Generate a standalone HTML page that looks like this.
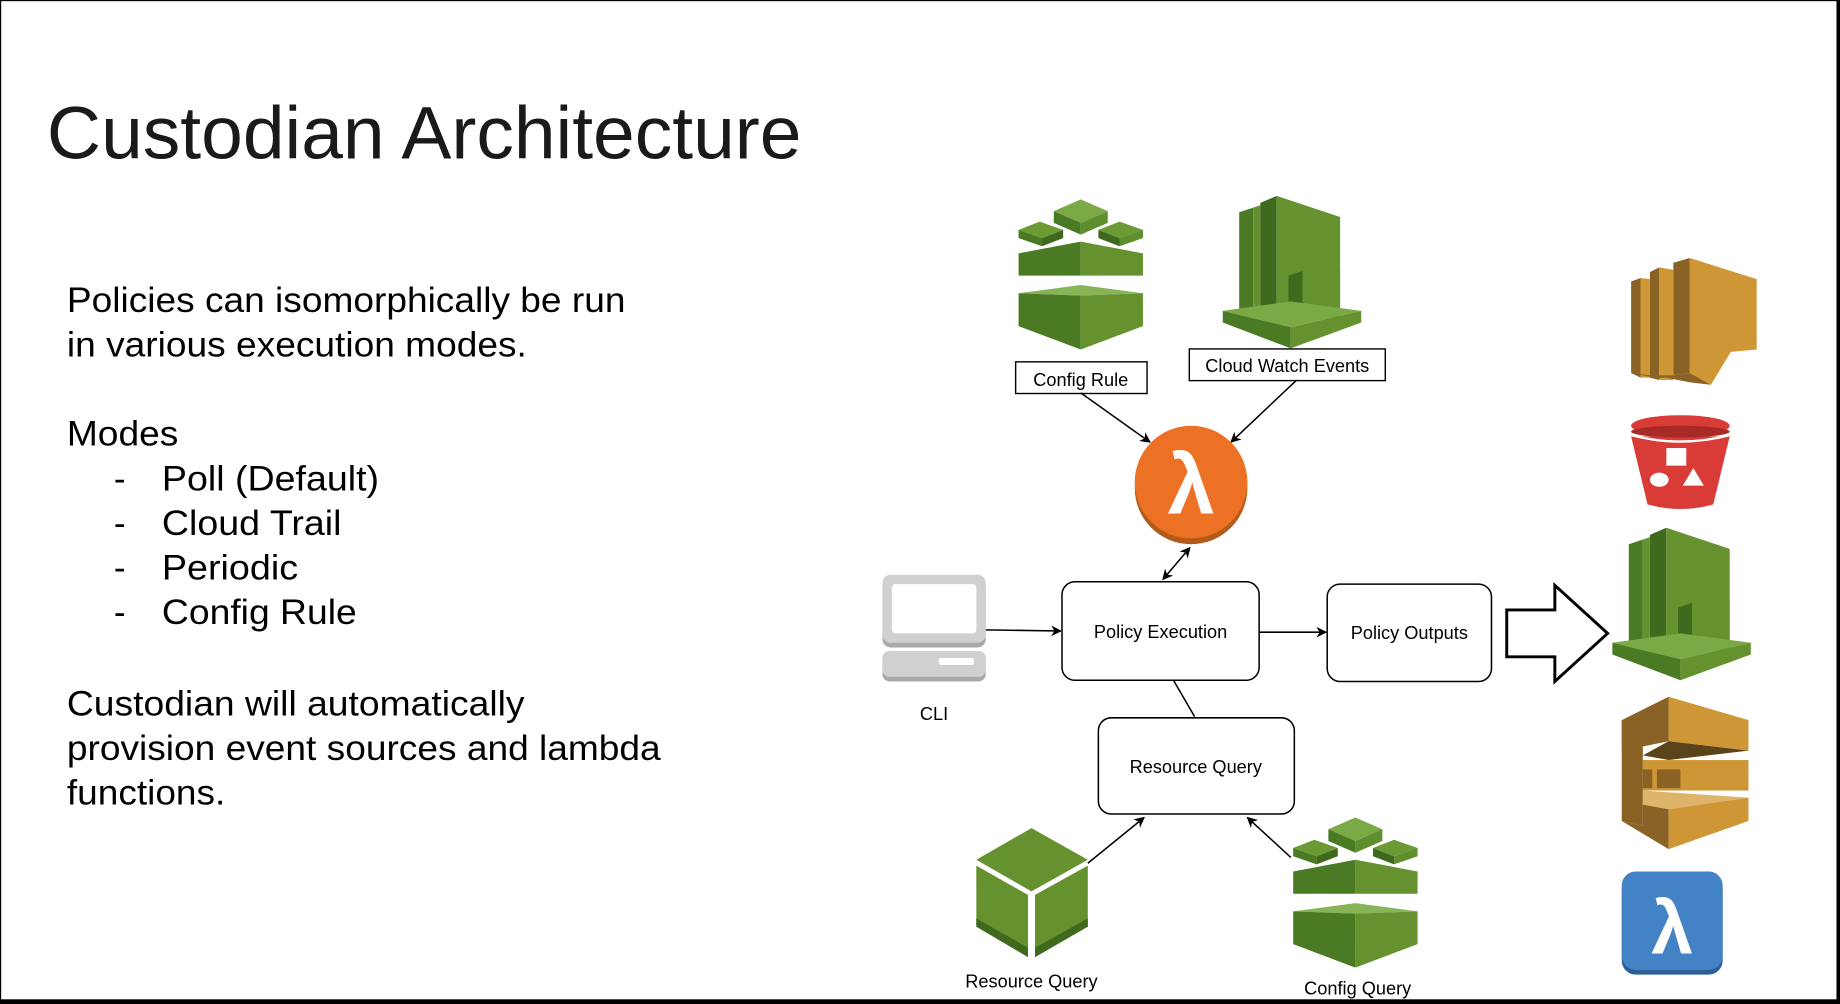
<!DOCTYPE html>
<html><head><meta charset="utf-8"><style>
html,body{margin:0;padding:0;background:#fff;}
svg{display:block;}
text{font-family:"Liberation Sans",Arial,sans-serif;}
</style></head><body>
<svg width="1840" height="1004" viewBox="0 0 1568 856" preserveAspectRatio="none" xmlns="http://www.w3.org/2000/svg">
<defs>
<marker id="ah" viewBox="0 0 10 10" refX="9" refY="5" markerWidth="7" markerHeight="7" orient="auto-start-reverse"><path d="M0,0 L10,5 L0,10 L3,5 Z" fill="#000"/></marker>
<g id="cfg">
 <polygon points="32,12 55,2 78,12 55,22" fill="#7BA945"/>
 <polygon points="32,12 55,22 55,32 32,22" fill="#4B7A25"/>
 <polygon points="55,22 78,12 78,22 55,32" fill="#5E8E2E"/>
 <polygon points="2,28 20,21 40,28 22,35" fill="#6B9A35"/>
 <polygon points="2,28 22,35 22,42 2,35" fill="#4B7A25"/>
 <polygon points="22,35 40,28 40,35 22,42" fill="#3F6A1E"/>
 <polygon points="70,28 88,21 108,28 88,35" fill="#6B9A35"/>
 <polygon points="70,28 88,35 88,42 70,35" fill="#3F6A1E"/>
 <polygon points="88,35 108,28 108,35 88,42" fill="#5E8E2E"/>
 <polygon points="2,48 55,38 55,67 2,67" fill="#4B7A25"/>
 <polygon points="55,38 108,48 108,67 55,67" fill="#65922F"/>
 <polygon points="2,82 55,75 108,82 55,84" fill="#86B456"/>
 <polygon points="2,82 55,84 55,130 2,110" fill="#4B7A25"/>
 <polygon points="55,84 108,82 108,110 55,130" fill="#65922F"/>
</g>
<g id="cw">
 <polygon points="14,14 26,10 26,102 14,100" fill="#4B7A25"/>
 <polygon points="26,10 32,8 32,102 26,102" fill="#65922F"/>
 <polygon points="32,6 46,0 46,104 32,102" fill="#3F6A1E"/>
 <polygon points="46,0 100,18 100,104 46,104" fill="#65922F"/>
 <polygon points="56,68 68,64 68,104 56,104" fill="#3F6A1E"/>
 <polygon points="68,64 100,62 100,104 68,104" fill="#65922F"/>
 <polygon points="0,98 58,112 118,98 58,90" fill="#7BA945"/>
 <polygon points="0,98 58,112 58,130 0,108" fill="#4B7A25"/>
 <polygon points="58,112 118,98 118,108 58,130" fill="#65922F"/>
</g>
</defs>
<rect x="0.5" y="0.5" width="1567" height="853" fill="#fff" stroke="#000" stroke-width="1"/>
<rect x="0" y="852" width="1568" height="4" fill="#000"/>
<rect x="1565" y="0" width="3" height="856" fill="#000"/>

<text x="40" y="135" font-size="63" fill="#1a1a1a" textLength="643" lengthAdjust="spacingAndGlyphs">Custodian Architecture</text>
<g font-size="30" fill="#000" lengthAdjust="spacingAndGlyphs">
<text x="57" y="266" textLength="476" lengthAdjust="spacingAndGlyphs">Policies can isomorphically be run</text>
<text x="57" y="304" textLength="392" lengthAdjust="spacingAndGlyphs">in various execution modes.</text>
<text x="57" y="380" textLength="95" lengthAdjust="spacingAndGlyphs">Modes</text>
<text x="97" y="418">-</text><text x="138" y="418" textLength="185" lengthAdjust="spacingAndGlyphs">Poll (Default)</text>
<text x="97" y="456">-</text><text x="138" y="456" textLength="153" lengthAdjust="spacingAndGlyphs">Cloud Trail</text>
<text x="97" y="494">-</text><text x="138" y="494" textLength="116" lengthAdjust="spacingAndGlyphs">Periodic</text>
<text x="97" y="532">-</text><text x="138" y="532" textLength="166" lengthAdjust="spacingAndGlyphs">Config Rule</text>
<text x="57" y="610" textLength="390" lengthAdjust="spacingAndGlyphs">Custodian will automatically</text>
<text x="57" y="648" textLength="506" lengthAdjust="spacingAndGlyphs">provision event sources and lambda</text>
<text x="57" y="686" textLength="135" lengthAdjust="spacingAndGlyphs">functions.</text>
</g>

<use href="#cfg" x="866" y="168"/>
<use href="#cw" x="1042" y="167"/>
<rect x="865.5" y="308.5" width="112" height="27" fill="#fff" stroke="#000" stroke-width="1.2"/>
<text x="921" y="329" font-size="15.5" text-anchor="middle">Config Rule</text>
<rect x="1013.5" y="297.5" width="167" height="27" fill="#fff" stroke="#000" stroke-width="1.2"/>
<text x="1097" y="317" font-size="15.5" text-anchor="middle">Cloud Watch Events</text>

<g stroke="#000" stroke-width="1.3" fill="none">
<line x1="921" y1="335" x2="980" y2="377" marker-end="url(#ah)"/>
<line x1="1105" y1="324" x2="1049" y2="377" marker-end="url(#ah)"/>
<line x1="991" y1="494" x2="1014" y2="467" marker-end="url(#ah)" marker-start="url(#ah)"/>
<line x1="840" y1="537" x2="904" y2="538" marker-end="url(#ah)"/>
<line x1="1073" y1="539" x2="1130" y2="539" marker-end="url(#ah)"/>
<line x1="1000" y1="580" x2="1018" y2="611"/>
<line x1="927" y1="736" x2="975" y2="697" marker-end="url(#ah)"/>
<line x1="1100" y1="731" x2="1063" y2="697" marker-end="url(#ah)"/>
</g>

<circle cx="1015" cy="416" r="48" fill="#B25A1C"/>
<circle cx="1015" cy="411" r="48" fill="#ED7125"/>
<text x="1015" y="438" font-size="72" fill="#fff" text-anchor="middle" font-family="DejaVu Sans,sans-serif" font-weight="bold">λ</text>

<rect x="905" y="496" width="168" height="84" rx="11" fill="#fff" stroke="#000" stroke-width="1.3"/>
<text x="989" y="544" font-size="15.5" text-anchor="middle">Policy Execution</text>
<rect x="1131" y="498" width="140" height="83" rx="11" fill="#fff" stroke="#000" stroke-width="1.3"/>
<text x="1201" y="545" font-size="15.5" text-anchor="middle">Policy Outputs</text>
<rect x="936" y="612" width="167" height="82" rx="11" fill="#fff" stroke="#000" stroke-width="1.3"/>
<text x="1019" y="659" font-size="15.5" text-anchor="middle">Resource Query</text>

<rect x="752" y="492" width="88" height="60" rx="7" fill="#A9A9A9"/>
<rect x="752" y="490" width="88" height="58" rx="7" fill="#D0D0D0"/>
<rect x="760" y="498" width="72" height="42" rx="3" fill="#fff"/>
<rect x="752" y="557" width="88" height="24" rx="6" fill="#A9A9A9"/>
<rect x="752" y="555" width="88" height="22" rx="6" fill="#D0D0D0"/>
<rect x="800" y="561" width="30" height="6" rx="2" fill="#fff"/>
<text x="796" y="614" font-size="15.5" text-anchor="middle">CLI</text>

<polygon points="879,706 927,733 879,760 832,733" fill="#65922F"/>
<polygon points="832,738 876,763 876,816 832,790" fill="#65922F"/>
<polygon points="882,763 927,738 927,790 882,816" fill="#65922F"/>
<polygon points="832,783 876,808 876,816 832,790" fill="#3F6A1E"/>
<polygon points="882,808 927,783 927,790 882,816" fill="#3F6A1E"/>
<text x="879" y="842" font-size="15.5" text-anchor="middle">Resource Query</text>
<use href="#cfg" x="1100" y="695"/>
<text x="1157" y="848" font-size="15.5" text-anchor="middle">Config Query</text>

<polygon points="1284,520 1325,520 1325,499 1370,540 1325,581 1325,560 1284,560" fill="#fff" stroke="#000" stroke-width="2.5"/>

<g>
<polygon points="1390,240 1398,237 1398,322 1390,318" fill="#8A6226"/>
<polygon points="1398,237 1406,238 1406,322 1398,322" fill="#CF9636"/>
<polygon points="1406,232 1414,228 1414,324 1406,322" fill="#8A6226"/>
<polygon points="1414,228 1426,230 1426,324 1414,324" fill="#CF9636"/>
<polygon points="1426,224 1440,220 1440,318 1426,320" fill="#8A6226"/>
<polygon points="1440,220 1497,238 1497,298 1475,300 1458,328 1440,318" fill="#CF9636"/>
<polygon points="1390,318 1410,322 1420,322 1440,326 1458,328 1440,318 1426,320 1406,320" fill="#8A6226"/>
</g>
<g>
<path d="M1390,372 L1474,372 L1460,430 Q1432,438 1404,430 Z" fill="#D93B36"/>
<ellipse cx="1432" cy="363" rx="42" ry="9" fill="#D93B36"/>
<ellipse cx="1432" cy="368" rx="42" ry="5" fill="#A82A26"/>
<path d="M1390,371 Q1432,382 1474,371" stroke="#fff" stroke-width="2" fill="none"/>
<rect x="1420" y="382" width="17" height="15" fill="#fff"/>
<ellipse cx="1414" cy="409" rx="8" ry="6" fill="#fff"/>
<polygon points="1443,399 1452,414 1434,414" fill="#fff"/>
</g>
<use href="#cw" x="1374" y="450"/>
<g>
<polygon points="1422,594 1490,614 1490,640 1422,632" fill="#CF9636"/>
<polygon points="1382,614 1422,594 1422,632 1382,640" fill="#8A6226"/>
<polygon points="1422,632 1490,640 1422,648 1400,644" fill="#5A4318"/>
<polygon points="1382,614 1400,608 1400,704 1382,700" fill="#8A6226"/>
<rect x="1400" y="648" width="90" height="26" fill="#CF9636"/>
<rect x="1400" y="656" width="8" height="16" fill="#8A6226"/>
<rect x="1412" y="656" width="20" height="16" fill="#8A6226"/>
<polygon points="1400,674 1490,680 1422,690 1400,686" fill="#DDB46A"/>
<polygon points="1382,700 1422,724 1422,690 1400,686 1400,704" fill="#8A6226"/>
<polygon points="1422,690 1490,680 1490,700 1422,724" fill="#CF9636"/>
</g>
<rect x="1382" y="747" width="86" height="84" rx="12" fill="#2F5F97"/>
<rect x="1382" y="743" width="86" height="84" rx="12" fill="#4382C4"/>
<text x="1425" y="813" font-size="64" fill="#fff" text-anchor="middle" font-family="DejaVu Sans,sans-serif" font-weight="bold">λ</text>
</svg>
</body></html>
